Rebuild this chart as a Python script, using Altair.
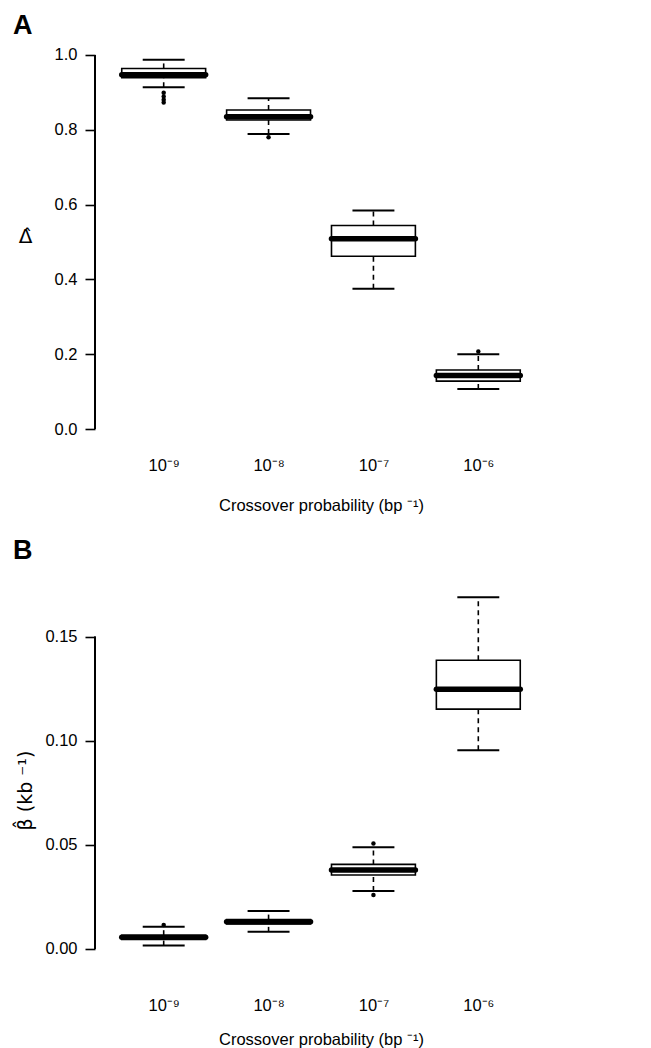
import altair as alt
import pandas as pd

FONT = "Liberation Sans"
GREEK_FONT = "DejaVu Sans"

positions = [1, 2, 3, 4]
x_labels = ["10⁻⁹", "10⁻⁸", "10⁻⁷", "10⁻⁶"]
x_title = "Crossover probability (bp ⁻¹)"

# Panel A: Delta-hat
a_low = [0.914, 0.789, 0.375, 0.107]
a_q1 = [0.939, 0.826, 0.462, 0.128]
a_med = [0.947, 0.835, 0.509, 0.143]
a_q3 = [0.964, 0.853, 0.544, 0.158]
a_high = [0.987, 0.884, 0.584, 0.200]
a_out_pos = [1, 1, 1, 1, 2, 4]
a_out_val = [0.899, 0.889, 0.880, 0.873, 0.780, 0.207]
a_ticks = [0.0, 0.2, 0.4, 0.6, 0.8, 1.0]

# Panel B: beta-hat (kb^-1)
b_low = [0.0016, 0.0082, 0.0278, 0.0955]
b_q1 = [0.0045, 0.0120, 0.0355, 0.1152]
b_med = [0.0056, 0.0130, 0.0379, 0.1248]
b_q3 = [0.0066, 0.0141, 0.0406, 0.1387]
b_high = [0.0107, 0.0182, 0.0488, 0.1690]
b_out_pos = [1, 3, 3]
b_out_val = [0.0115, 0.0507, 0.0259]
b_ticks = [0.0, 0.05, 0.10, 0.15]

label_expr = "[" + ",".join("'" + s + "'" for s in x_labels) + "][datum.value - 1]"


def panel(low, q1, med, q3, high, out_pos, out_val, ticks, ydomain, fmt,
          letter, letter_offset, ytitle, ytitle_angle, ytitle_y, ytitle_size,
          height, xlabel_pad, xtitle_pad):
    df = pd.DataFrame({"pos": positions, "low": low, "q1": q1, "med": med,
                       "q3": q3, "high": high})
    outs = pd.DataFrame({"pos": out_pos, "value": out_val})
    xs = alt.Scale(domain=[0.345, 4.655], nice=False, zero=False)
    ys = alt.Scale(domain=ydomain, nice=False, zero=False)
    x_axis = alt.Axis(values=positions, labelExpr=label_expr, domain=False,
                      ticks=False, grid=False, labelPadding=xlabel_pad,
                      labelFont=FONT, labelFontSize=16.5, labelColor="black",
                      title=x_title, titleFont=FONT, titleFontSize=16.5,
                      titleFontWeight="normal", titleColor="black",
                      titlePadding=xtitle_pad)
    y_axis = alt.Axis(values=ticks, format=fmt, domain=False, grid=False,
                      tickSize=10, tickWidth=1.6, tickColor="black",
                      labelPadding=8, labelFont=FONT, labelFontSize=16.5,
                      labelColor="black", title=ytitle, titleFont=GREEK_FONT,
                      titleFontSize=ytitle_size, titleFontWeight="normal",
                      titleColor="black", titleAngle=ytitle_angle,
                      titleX=-70, titleY=ytitle_y, titleAlign="center",
                      titleBaseline="middle")

    def X(f):
        return alt.X(f, scale=xs, axis=x_axis)

    def Y(f):
        return alt.Y(f, scale=ys, axis=y_axis)

    base = alt.Chart(df).transform_calculate(
        xl="datum.pos - 0.4", xr="datum.pos + 0.4",
        cl="datum.pos - 0.2", cr="datum.pos + 0.2")

    whisk_lo = base.mark_rule(color="black", strokeWidth=1.6, strokeDash=[5, 4]).encode(
        x=X("pos:Q"), y=Y("low:Q"), y2="q1:Q")
    whisk_hi = base.mark_rule(color="black", strokeWidth=1.6, strokeDash=[5, 4]).encode(
        x=X("pos:Q"), y=Y("q3:Q"), y2="high:Q")
    cap_lo = base.mark_rule(color="black", strokeWidth=2).encode(
        x=X("cl:Q"), x2="cr:Q", y=Y("low:Q"))
    cap_hi = base.mark_rule(color="black", strokeWidth=2).encode(
        x=X("cl:Q"), x2="cr:Q", y=Y("high:Q"))
    box = base.mark_rect(fill="white", stroke="black", strokeWidth=1.6).encode(
        x=X("xl:Q"), x2="xr:Q", y=Y("q1:Q"), y2="q3:Q")
    median = base.mark_rule(color="black", strokeWidth=5.5, strokeCap="round").encode(
        x=X("xl:Q"), x2="xr:Q", y=Y("med:Q"))
    points = alt.Chart(outs).mark_point(filled=True, color="black", size=20,
                                         opacity=1).encode(
        x=X("pos:Q"), y=Y("value:Q"))
    axis_line = alt.Chart(df).mark_rule(color="black", strokeWidth=1.8).encode(
        x=alt.value(0),
        y=alt.Y(datum=ticks[0], scale=ys, axis=y_axis),
        y2=alt.datum(ticks[-1]))
    return alt.layer(whisk_lo, whisk_hi, cap_lo, cap_hi, box, median, points,
                     axis_line).properties(
        width=452, height=height,
        title=alt.TitleParams(letter, anchor="start", frame="group", dx=-82,
                              offset=letter_offset, font=FONT, fontSize=27,
                              fontWeight="bold", color="black"))


pa = panel(a_low, a_q1, a_med, a_q3, a_high, a_out_pos, a_out_val, a_ticks,
           [-0.04, 1.04], ".1f", "A", 0, "Δ̂", 0, 196, 20, 404, 13, 24)
pb = panel(b_low, b_q1, b_med, b_q3, b_high, b_out_pos, b_out_val, b_ticks,
           [-0.00676, 0.1758], ".2f", "B", 18, "β̂ (kb ⁻¹)", -90, 207, 19, 380, 34, 18)

chart = alt.vconcat(pa, pb, spacing=23).properties(
    padding={"left": 13, "top": 12, "right": 0, "bottom": 0},
    background="white"
).configure_view(stroke=None)

chart.save("out.html", embed_options={"renderer": "svg", "actions": False})
